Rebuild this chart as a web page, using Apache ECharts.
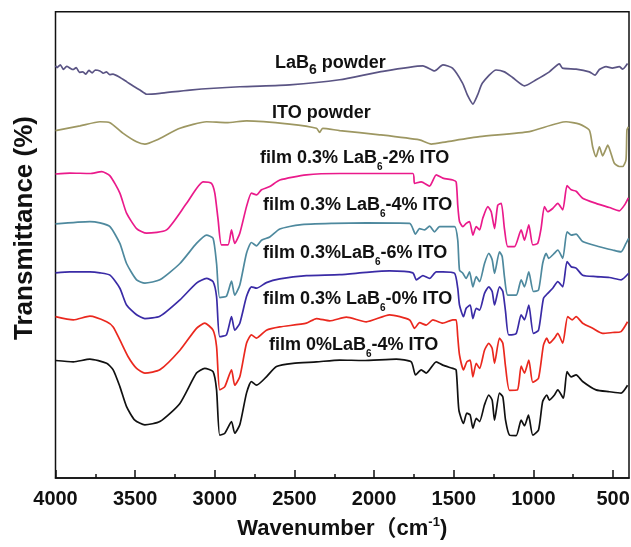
<!DOCTYPE html>
<html>
<head>
<meta charset="utf-8">
<script src="https://cdn.jsdelivr.net/npm/echarts@6/dist/echarts.min.js"></script>
<style>html,body{margin:0;padding:0;background:#fff}#c{width:631px;height:547px}</style>
</head>
<body>
<div id="c"></div>
<script>
// ---- axis ticks ----
const xMajorTicks = [4000, 3500, 3000, 2500, 2000, 1500, 1000, 500];
const xMinorTicks = [3750, 3250, 2750, 2250, 1750, 1250, 750];

// ---- series: [wavenumber, transmittance (arb., offset)] ----
const lab6Powder = [
[4000,88.4],[3990,88.0],[3970,88.6],[3950,87.6],[3930,88.3],[3909,87.9],[3890,87.6],[3870,88.0],[3850,87.0],[3828,87.1],[3810,86.6],[3790,87.4],[3770,86.9],[3750,87.5],[3721,87.3],[3700,86.8],[3680,87.1],[3660,86.5],[3639,86.6],[3600,86.0],[3554,85.0],[3510,84.0],[3470,83.2],[3428,82.3],[3345,82.5],[3157,83.2],[2843,83.9],[2530,84.3],[2216,85.4],[1965,87.1],[1694,88.4],[1620,87.3],[1568,88.6],[1508,87.9],[1445,84.7],[1414,82.1],[1380,80.2],[1351,82.1],[1320,84.7],[1234,87.5],[1182,87.1],[1131,85.9],[1056,84.1],[983,85.4],[900,87.1],[837,88.8],[818,87.9],[732,87.7],[649,87.1],[613,86.4],[586,87.6],[544,88.2],[505,87.9],[461,88.2],[440,87.7],[409,88.9]
];
const itoPowder = [
[4000,74.5],[3846,75.5],[3721,76.4],[3658,76.2],[3575,73.9],[3491,72.1],[3439,71.6],[3365,72.5],[3219,75.0],[3052,76.4],[2927,76.2],[2801,76.6],[2530,75.9],[2362,75.0],[2342,74.1],[2323,75.0],[2216,74.5],[1965,73.6],[1715,72.5],[1641,71.6],[1547,72.1],[1338,73.2],[1025,74.3],[795,76.4],[711,75.9],[649,74.6],[628,71.0],[607,68.9],[586,71.0],[565,69.1],[548,70.3],[533,71.4],[513,69.6],[492,67.5],[461,66.8],[440,66.8],[419,68.2],[413,74.6],[404,75.3]
];
const film2ITO = [
[4000,65.2],[3909,65.4],[3784,65.3],[3710,65.7],[3658,64.8],[3596,61.1],[3554,56.8],[3491,53.5],[3428,52.5],[3303,53.2],[3177,58.9],[3073,63.5],[3021,63.2],[3000,61.1],[2979,55.3],[2958,50.0],[2917,50.0],[2895,53.2],[2875,50.3],[2843,52.5],[2801,58.2],[2770,61.1],[2738,60.7],[2707,61.8],[2655,62.5],[2592,63.9],[2425,65.0],[2216,65.3],[1757,65.3],[1746,63.2],[1704,63.5],[1652,62.6],[1610,65.0],[1569,64.3],[1506,63.9],[1485,63.5],[1475,58.5],[1464,55.0],[1443,53.9],[1422,54.6],[1401,55.0],[1380,52.1],[1359,53.9],[1338,53.2],[1318,55.7],[1286,58.2],[1265,57.1],[1244,53.5],[1224,58.5],[1202,58.9],[1182,53.5],[1161,49.6],[1119,49.6],[1077,53.2],[1056,51.0],[1029,54.3],[1004,50.0],[973,50.3],[952,53.5],[931,58.2],[910,57.1],[879,57.8],[847,58.9],[816,57.5],[789,62.7],[763,61.8],[732,61.5],[691,60.0],[607,58.9],[523,58.0],[461,57.3],[429,58.5],[404,60.1]
];
const film4ITO = [
[4000,54.5],[3784,55.0],[3721,54.7],[3658,53.9],[3596,50.3],[3554,46.0],[3491,42.5],[3439,41.8],[3345,42.5],[3219,46.0],[3115,50.3],[3052,52.1],[3011,51.4],[2989,46.0],[2969,38.7],[2927,39.0],[2895,42.2],[2875,39.2],[2843,41.4],[2801,48.2],[2770,50.5],[2738,49.8],[2707,51.0],[2655,51.7],[2592,53.4],[2467,54.3],[2258,54.6],[2049,54.7],[1777,54.6],[1740,52.3],[1715,53.5],[1683,53.2],[1652,54.0],[1621,52.8],[1589,53.9],[1495,53.9],[1475,51.0],[1464,44.6],[1443,43.9],[1422,42.8],[1401,44.2],[1380,41.0],[1359,43.2],[1338,42.1],[1307,46.0],[1280,48.2],[1259,46.8],[1244,43.9],[1213,48.5],[1196,47.5],[1182,43.2],[1161,39.2],[1108,39.2],[1077,42.5],[1056,41.0],[1029,44.2],[1000,40.0],[968,40.3],[942,46.0],[920,48.2],[904,47.1],[868,48.2],[847,48.9],[816,47.1],[789,52.8],[763,52.1],[732,52.3],[691,50.7],[586,49.6],[503,48.9],[450,48.5],[419,50.3],[402,51.4]
];
const film6ITO = [
[4000,44.0],[3909,44.2],[3784,44.2],[3721,44.0],[3658,43.5],[3596,40.7],[3554,37.1],[3491,35.0],[3439,34.2],[3345,34.7],[3219,38.2],[3115,41.8],[3052,42.8],[3011,42.1],[2989,38.9],[2969,30.3],[2927,30.7],[2895,34.6],[2875,31.7],[2843,33.2],[2801,38.9],[2770,41.0],[2738,40.7],[2676,41.9],[2592,42.7],[2425,43.4],[2216,43.6],[2049,44.1],[1903,44.4],[1757,44.0],[1735,42.5],[1694,43.4],[1652,42.8],[1610,44.2],[1568,44.2],[1495,43.9],[1475,40.7],[1464,37.1],[1439,34.6],[1422,36.4],[1397,37.1],[1380,34.2],[1359,36.4],[1338,36.0],[1307,39.6],[1280,41.0],[1259,40.0],[1244,37.1],[1213,41.0],[1192,40.0],[1175,35.7],[1155,30.7],[1108,31.0],[1077,35.0],[1056,33.9],[1029,37.1],[1000,31.0],[968,31.7],[937,38.5],[910,39.6],[879,40.7],[847,42.1],[816,41.0],[789,46.4],[763,45.3],[732,45.0],[691,43.5],[607,43.2],[523,43.0],[450,42.5],[402,43.9]
];
const film0ITO = [
[4000,34.6],[3888,33.9],[3784,34.7],[3679,33.5],[3638,32.4],[3596,29.6],[3544,26.0],[3491,23.5],[3439,22.5],[3345,23.2],[3219,27.4],[3115,32.1],[3063,33.2],[3011,31.7],[2989,28.2],[2969,18.9],[2937,19.6],[2895,23.2],[2875,19.9],[2843,21.7],[2801,28.9],[2770,30.7],[2738,30.0],[2676,31.7],[2592,32.4],[2425,33.2],[2362,34.2],[2279,33.7],[2174,34.5],[2049,33.5],[1903,35.0],[1777,33.9],[1746,32.1],[1715,33.3],[1673,32.8],[1631,33.9],[1569,33.2],[1506,33.9],[1485,33.9],[1475,30.3],[1464,26.4],[1439,23.2],[1418,24.9],[1397,25.3],[1380,21.7],[1359,24.6],[1338,23.5],[1307,27.4],[1280,28.9],[1259,27.8],[1244,24.6],[1213,30.0],[1192,28.9],[1175,23.9],[1150,18.8],[1100,18.9],[1077,24.0],[1056,22.5],[1029,25.3],[1004,20.5],[968,21.4],[937,28.5],[916,30.0],[900,28.9],[868,30.0],[847,31.0],[816,28.9],[785,34.6],[757,33.9],[732,34.6],[691,33.2],[628,32.1],[565,31.0],[503,31.2],[450,31.4],[409,33.5]
];
const film0LaB4ITO = [
[4000,25.2],[3888,24.9],[3784,25.5],[3679,24.6],[3638,23.2],[3596,19.6],[3554,15.3],[3502,12.4],[3439,11.4],[3345,12.1],[3219,16.0],[3115,22.5],[3063,23.5],[3011,22.8],[2989,18.9],[2969,9.2],[2937,9.6],[2895,12.1],[2875,9.6],[2843,11.4],[2801,18.2],[2770,20.7],[2738,19.9],[2676,21.7],[2613,23.9],[2509,24.6],[2362,24.9],[2216,25.3],[2070,25.2],[1861,25.5],[1767,24.9],[1740,22.1],[1704,23.2],[1673,22.5],[1610,24.9],[1569,24.2],[1506,23.5],[1485,23.2],[1468,14.6],[1439,11.7],[1418,13.9],[1397,13.5],[1380,10.7],[1359,12.8],[1338,12.1],[1307,15.7],[1280,17.8],[1259,16.7],[1244,12.4],[1213,18.2],[1192,17.4],[1175,12.4],[1150,9.2],[1108,9.1],[1077,12.4],[1056,11.2],[1031,13.5],[1004,9.2],[968,10.3],[942,16.4],[916,17.8],[900,16.7],[868,17.8],[847,18.9],[812,17.1],[789,22.8],[763,21.7],[732,22.1],[691,20.7],[607,18.9],[523,18.5],[450,18.2],[409,19.9]
];

const seriesDefs = [
  {name: 'LaB6 powder', data: lab6Powder, color: '#5a5484'},
  {name: 'ITO powder', data: itoPowder, color: '#9d9762'},
  {name: 'film 0.3% LaB6-2% ITO', data: film2ITO, color: '#ea1a8b'},
  {name: 'film 0.3% LaB6-4% ITO', data: film4ITO, color: '#4e899e'},
  {name: 'film 0.3%LaB6-6% ITO', data: film6ITO, color: '#3a2ba6'},
  {name: 'film 0.3% LaB6-0% ITO', data: film0ITO, color: '#ea281e'},
  {name: 'film 0%LaB6-4% ITO', data: film0LaB4ITO, color: '#111111'}
];

const FONT = 'Liberation Sans, Arial, Noto Sans CJK SC, sans-serif';
const tickLine = {color: '#111', width: 1.5};

function label(x, y, text, subSize, subPad) {
  return {
    type: 'text', x: x, y: y, silent: true,
    style: {
      text: text, fontSize: 18, fontWeight: 'bold', fontFamily: FONT, fill: '#111',
      align: 'left', verticalAlign: 'middle',
      rich: { s: {fontSize: subSize, fontWeight: 'bold', fontFamily: FONT, fill: '#111', padding: [subPad, 0, 0, 0]} }
    }
  };
}

const chart = echarts.init(document.getElementById('c'), null, {renderer: 'canvas'});
chart.setOption({
  animation: false,
  backgroundColor: '#fff',
  grid: {left: 55.5, right: 2, top: 11.7, bottom: 69, show: true, borderColor: '#111', borderWidth: 1.5,
         containLabel: false, outerBoundsMode: 'none'},
  xAxis: [{
    type: 'value', inverse: true, min: 400, max: 4000, position: 'bottom',
    splitLine: {show: false},
    axisLine: {show: true, lineStyle: tickLine},
    axisTick: {show: true, inside: true, length: 8, customValues: xMajorTicks, lineStyle: tickLine},
    axisLabel: {show: true, customValues: xMajorTicks, formatter: v => String(v), fontSize: 20, fontWeight: 'bold', fontFamily: FONT, color: '#111', margin: 11},
    name: 'Wavenumber（cm{sup|-1})', nameLocation: 'middle', nameGap: 38,
    nameTextStyle: {fontSize: 22, fontWeight: 'bold', fontFamily: FONT, color: '#111',
      rich: {sup: {fontSize: 13, fontWeight: 'bold', fontFamily: FONT, color: '#111', padding: [0, 0, 12, 0]}}}
  }, {
    type: 'value', inverse: true, min: 400, max: 4000, position: 'bottom',
    splitLine: {show: false}, axisLine: {show: false},
    axisTick: {show: true, inside: true, length: 4, customValues: xMinorTicks, lineStyle: tickLine},
    axisLabel: {show: false}
  }],
  yAxis: {
    type: 'value', min: 0, max: 100,
    axisLine: {show: false}, axisTick: {show: false}, axisLabel: {show: false}, splitLine: {show: false}
  },
  graphic: [
    {type: 'text', x: 25, y: 228, rotation: Math.PI / 2, silent: true,
     style: {text: 'Transmittance (%)', fontSize: 26, fontWeight: 'bold', fontFamily: FONT, fill: '#111', align: 'center', verticalAlign: 'middle'}},
    label(275, 63, 'LaB{s|6} powder', 14, 15),
    label(272, 113, 'ITO powder', 14, 0),
    label(260, 158, 'film 0.3% LaB{s|6}-2% ITO', 10, 18),
    label(263, 205, 'film 0.3% LaB{s|6}-4% ITO', 10, 18),
    label(263, 253, 'film 0.3%LaB{s|6}-6% ITO', 10, 18),
    label(263, 299, 'film 0.3% LaB{s|6}-0% ITO', 10, 18),
    label(269, 345, 'film 0%LaB{s|6}-4% ITO', 10, 18)
  ],
  series: seriesDefs.map(d => ({
    name: d.name, type: 'line', data: d.data, xAxisIndex: 0, yAxisIndex: 0,
    showSymbol: false, smooth: 0.2, silent: true,
    lineStyle: {color: d.color, width: 1.7}, itemStyle: {color: d.color}
  }))
});
</script>
</body>
</html>
